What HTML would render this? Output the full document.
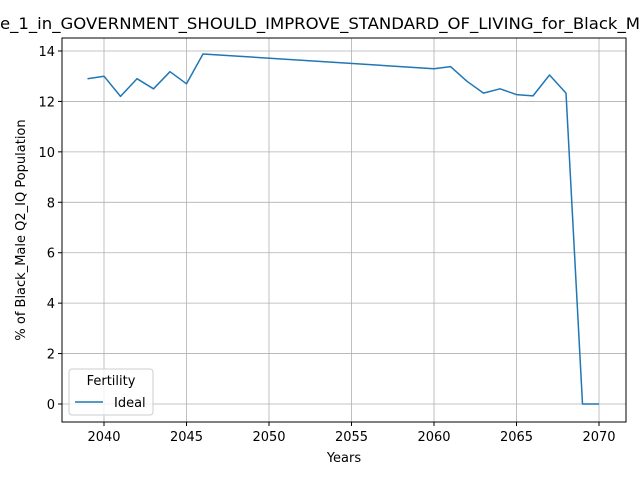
<!DOCTYPE html>
<html><head><meta charset="utf-8"><style>
body{margin:0;background:#fff}
svg{display:block;font-family:"DejaVu Sans","Liberation Sans",sans-serif}
</style></head><body>
<svg id="chart" width="640" height="480" xmlns="http://www.w3.org/2000/svg">
<rect width="640" height="480" fill="#fff"/>
<text x="0" y="29" font-size="16" textLength="640" lengthAdjust="spacingAndGlyphs">e_1_in_GOVERNMENT_SHOULD_IMPROVE_STANDARD_OF_LIVING_for_Black_M</text>
<g id="grid"></g>
<g id="axes"></g>
<g id="series"></g>
<rect x="62" y="38" width="564" height="384" fill="none" stroke="#000" stroke-width="1"/>
<text x="344" y="462" font-size="13" text-anchor="middle">Years</text>
<text transform="translate(25,230) rotate(-90)" font-size="13" text-anchor="middle">% of Black_Male Q2_IQ Population</text>
<g>
<rect x="69" y="369" width="84" height="46" rx="3" fill="#fff" fill-opacity="0.8" stroke="#ccc"/>
<text x="111" y="385" font-size="13" text-anchor="middle">Fertility</text>
<line x1="75" y1="402" x2="103" y2="402" stroke="#1f77b4" stroke-width="1.5"/>
<text x="114" y="407" font-size="13">Ideal</text>
</g>
</svg>
<script>
const years=[2039,2040,2041,2042,2043,2044,2045,2046,2060,2061,2062,2063,2064,2065,2066,2067,2068,2069,2070];
const idealValues=[12.9,13.0,12.2,12.9,12.5,13.18,12.7,13.88,13.3,13.38,12.8,12.33,12.5,12.27,12.22,13.05,12.33,0,0];
const xTicks=[2040,2045,2050,2055,2060,2065,2070];
const yTicks=[0,2,4,6,8,10,12,14];
const NS="http://www.w3.org/2000/svg";
const xs=v=>104+(v-2040)*16.5;
const ys=v=>404-v*25.214;
function mk(tag,attrs,parent){const e=document.createElementNS(NS,tag);for(const k in attrs)e.setAttribute(k,attrs[k]);parent.appendChild(e);return e;}
const grid=document.getElementById('grid'),axes=document.getElementById('axes'),series=document.getElementById('series');
xTicks.forEach(t=>{const x=xs(t);
 const g=mk('line',{x1:x,x2:x,y1:38,y2:422,stroke:'#b0b0b0','stroke-width':0.8},grid);
 
 
 const tk=mk('line',{x1:x,x2:x,y1:422,y2:426,stroke:'#000'},axes);
 
 
 const l=mk('text',{x:x,y:441,'font-size':13,'text-anchor':'middle'},axes);l.textContent=t;
 
 
});
yTicks.forEach(t=>{const y=ys(t);
 const g=mk('line',{x1:62,x2:626,y1:y,y2:y,stroke:'#b0b0b0','stroke-width':0.8},grid);
 
 
 const tk=mk('line',{x1:58,x2:62,y1:y,y2:y,stroke:'#000'},axes);
 
 
 const l=mk('text',{x:55,y:y+5,'font-size':13,'text-anchor':'end'},axes);l.textContent=t;
 
 
});
const pts=years.map((y,i)=>xs(y).toFixed(1)+','+ys(idealValues[i]).toFixed(1)).join(' ');
const pl=mk('polyline',{points:pts,fill:'none',stroke:'#1f77b4','stroke-width':1.5,'stroke-linejoin':'round'},series);


</script>
</body></html>
